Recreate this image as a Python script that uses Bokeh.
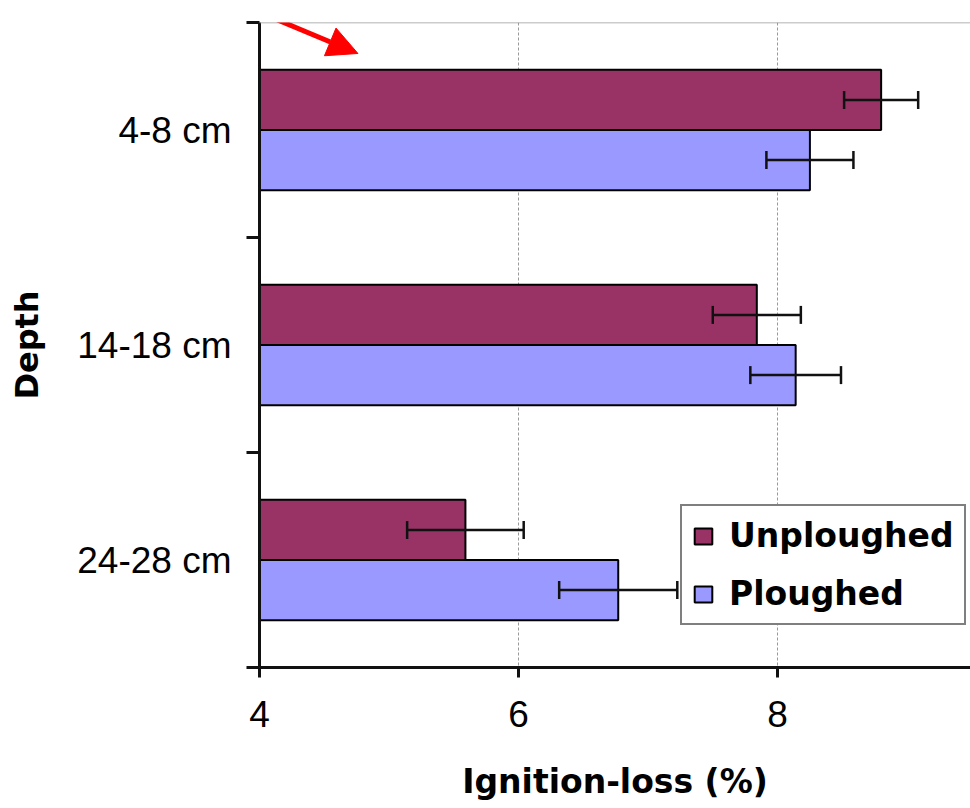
from bokeh.plotting import figure
from bokeh.models import (Range1d, FixedTicker, Span, Arrow, NormalHead, Whisker,
                          ColumnDataSource, Legend, LegendItem, TeeHead)
from bokeh.embed import file_html
from bokeh.resources import INLINE

# ---- data ----
depths = ["4-8 cm", "14-18 cm", "24-28 cm"]
unploughed = [8.80, 7.84, 5.59]
unploughed_err = [0.286, 0.34, 0.45]
ploughed = [8.25, 8.14, 6.77]
ploughed_err = [0.336, 0.35, 0.456]
x_ticks = [4, 6, 8]

# ---- layout constants ----
BAR_H = 0.28
OFF = 0.14
COL_U = "#993366"
COL_P = "#9999FF"

ypos = [i + 0.5 for i in range(len(depths))]

p = figure(width=970, height=808, x_range=Range1d(4, 9.49), y_range=Range1d(len(depths), 0),
           output_backend="svg", toolbar_location=None,
           min_border_left=259, min_border_right=0, min_border_top=22, min_border_bottom=141)
p.outline_line_color = None
p.background_fill_color = "white"

src_u = ColumnDataSource(dict(y=[y - OFF for y in ypos], v=unploughed,
                              lo=[v - e for v, e in zip(unploughed, unploughed_err)],
                              hi=[v + e for v, e in zip(unploughed, unploughed_err)]))
src_p = ColumnDataSource(dict(y=[y + OFF for y in ypos], v=ploughed,
                              lo=[v - e for v, e in zip(ploughed, ploughed_err)],
                              hi=[v + e for v, e in zip(ploughed, ploughed_err)]))

r_u = p.hbar(y="y", left=4, right="v", height=BAR_H, source=src_u,
             fill_color=COL_U, line_color="black", line_width=2)
r_p = p.hbar(y="y", left=4, right="v", height=BAR_H, source=src_p,
             fill_color=COL_P, line_color="black", line_width=2)

for src in (src_u, src_p):
    w = Whisker(base="y", lower="lo", upper="hi", dimension="width", source=src,
                level="overlay",
                line_color="#111111", line_width=2.5,
                lower_head=TeeHead(size=18, line_width=2.5, line_color="#111111"),
                upper_head=TeeHead(size=18, line_width=2.5, line_color="#111111"))
    p.add_layout(w)

# top border
p.add_layout(Span(location=0, dimension="width", line_color="#999999", line_width=1.5))

# red arrow
ARROW_X0, ARROW_Y0, ARROW_X1, ARROW_Y1 = 4.02, -0.042, 4.76, 0.144
p.add_layout(Arrow(x_start=ARROW_X0, y_start=ARROW_Y0, x_end=ARROW_X1, y_end=ARROW_Y1,
                   line_color="red", line_width=5,
                   end=NormalHead(size=30, fill_color="red", line_color="red")))

# grid
p.xgrid.ticker = FixedTicker(ticks=x_ticks[1:])
p.xgrid.grid_line_color = "#999999"
p.xgrid.grid_line_dash = "3 2"
p.xgrid.grid_line_width = 1
p.ygrid.grid_line_color = None

# x axis
xa = p.xaxis[0]
xa.ticker = FixedTicker(ticks=x_ticks)
xa.axis_line_width = 3
xa.axis_line_color = "#111111"
xa.major_tick_line_width = 3
xa.major_tick_line_color = "#111111"
xa.major_tick_in = 0
xa.major_tick_out = 10
xa.minor_tick_line_color = None
xa.major_label_text_font = "Liberation Sans"
xa.major_label_text_font_size = "37px"
xa.major_label_text_color = "black"
xa.major_label_standoff = 23
xa.axis_label = "Ignition-loss (%)"
xa.axis_label_text_font = "DejaVu Sans"
xa.axis_label_text_font_style = "bold"
xa.axis_label_text_font_size = "33px"
xa.axis_label_text_color = "black"
xa.axis_label_standoff = 32

# y axis
ya = p.yaxis[0]
ya.ticker = FixedTicker(ticks=ypos, minor_ticks=list(range(len(depths) + 1)))
ya.major_label_overrides = {y: d for y, d in zip(ypos, depths)}
ya.axis_line_width = 3
ya.axis_line_color = "#111111"
ya.major_tick_line_color = None
ya.major_tick_in = 0
ya.major_tick_out = 13
ya.minor_tick_line_color = "#111111"
ya.minor_tick_line_width = 3
ya.minor_tick_in = 0
ya.minor_tick_out = 13
ya.major_label_text_font = "Liberation Sans"
ya.major_label_text_font_size = "37px"
ya.major_label_text_color = "black"
ya.major_label_standoff = 15
ya.axis_label = "Depth"
ya.axis_label_text_font = "DejaVu Sans"
ya.axis_label_text_font_style = "bold"
ya.axis_label_text_font_size = "32px"
ya.axis_label_text_color = "black"
ya.axis_label_standoff = 28

legend = Legend(items=[LegendItem(label="Unploughed", renderers=[r_u]),
                       LegendItem(label="Ploughed", renderers=[r_p])],
                location=(421, 42))
legend.border_line_color = "black"
legend.border_line_width = 2
legend.background_fill_color = "white"
legend.background_fill_alpha = 1
legend.label_text_font = "DejaVu Sans"
legend.label_text_font_style = "bold"
legend.label_text_font_size = "33px"
legend.label_text_color = "black"
legend.glyph_width = 22
legend.glyph_height = 20
legend.label_standoff = 15
legend.padding = 10
legend.spacing = 19
legend.margin = 0
p.add_layout(legend)

open("out.html", "w").write(file_html(p, INLINE))
